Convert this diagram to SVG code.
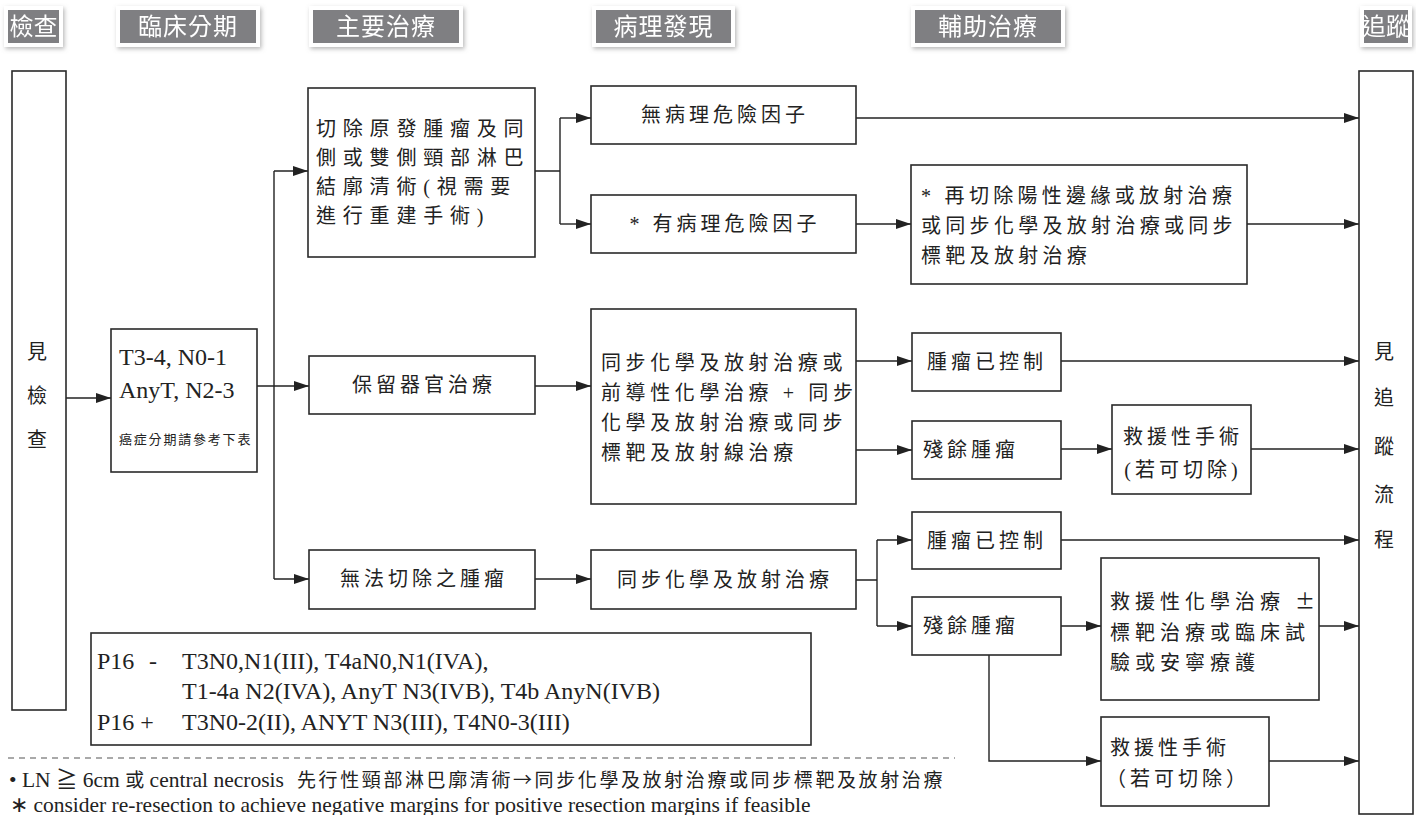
<svg xmlns="http://www.w3.org/2000/svg" width="1416" height="815" viewBox="0 0 1416 815">
<style>
.tab{fill:#7f7f82;stroke:#fff;stroke-width:4}
.tt{font-family:"Noto Sans CJK TC","Noto Sans",sans-serif;font-size:24px;fill:#fff;text-anchor:middle;letter-spacing:1px}
.box{fill:#fff;stroke:#2a2a2a;stroke-width:1.6}
.cj{font-family:"Liberation Serif","Noto Sans CJK TC",serif;font-size:20px;fill:#222;letter-spacing:4px}
.c{text-anchor:middle}
.ser{font-family:"Liberation Serif","Noto Sans CJK TC",serif;fill:#222}
.sc{font-family:"Noto Sans CJK TC",sans-serif}
.ln{fill:none;stroke:#222;stroke-width:1.4}
.ar{marker-end:url(#ah)}
.dash{fill:none;stroke:#555;stroke-width:1.2;stroke-dasharray:6 5}
</style>
<defs>
<marker id="ah" markerUnits="userSpaceOnUse" markerWidth="15" markerHeight="10" refX="15" refY="5" orient="auto">
<path d="M0,0 L15,5 L0,10 z" fill="#222"/>
</marker>
<filter id="sh" x="-20%" y="-30%" width="140%" height="160%">
<feDropShadow dx="1.5" dy="2" stdDeviation="2" flood-color="#888" flood-opacity="0.6"/>
</filter>
</defs>
<rect width="1416" height="815" fill="#fff"/>

<g id="headers" filter="url(#sh)">
<g id="h-check"><rect class="tab" x="6" y="8" width="55" height="37"/><text class="tt" x="33.5" y="35" style="letter-spacing:0">檢查</text></g>
<g id="h-stage"><rect class="tab" x="118" y="8" width="140" height="37"/><text class="tt" x="188" y="35">臨床分期</text></g>
<g id="h-main"><rect class="tab" x="311" y="8" width="150" height="37"/><text class="tt" x="386" y="35">主要治療</text></g>
<g id="h-path"><rect class="tab" x="594" y="8" width="139" height="37"/><text class="tt" x="663.5" y="35">病理發現</text></g>
<g id="h-adj"><rect class="tab" x="913" y="8" width="150" height="37"/><text class="tt" x="988" y="35">輔助治療</text></g>
<g id="h-fu"><rect class="tab" x="1362" y="8" width="48" height="37"/><text class="tt" x="1386" y="35" style="letter-spacing:0">追蹤</text></g>
</g>

<g id="connectors">
<path class="ln ar" d="M66,398 H111"/>
<path class="ln" d="M274,171 V579"/>
<path class="ln ar" d="M274,171 H308"/>
<path class="ln ar" d="M257,386 H309"/>
<path class="ln ar" d="M274,579 H309"/>
<path class="ln" d="M535,171 H560 M560,118 V224"/>
<path class="ln ar" d="M560,118 H591"/>
<path class="ln ar" d="M560,224 H591"/>
<path class="ln ar" d="M856,118 H1359"/>
<path class="ln ar" d="M856,224 H911"/>
<path class="ln ar" d="M1247,224 H1359"/>
<path class="ln ar" d="M535,386 H591"/>
<path class="ln ar" d="M856,361 H912"/>
<path class="ln ar" d="M856,450 H912"/>
<path class="ln ar" d="M1061,361 H1359"/>
<path class="ln ar" d="M1061,449 H1112"/>
<path class="ln ar" d="M1251,449 H1359"/>
<path class="ln ar" d="M535,579 H591"/>
<path class="ln" d="M856,580 H877 M877,540 V626"/>
<path class="ln ar" d="M877,540 H912"/>
<path class="ln ar" d="M877,626 H912"/>
<path class="ln ar" d="M1061,540 H1359"/>
<path class="ln ar" d="M1061,626 H1101"/>
<path class="ln ar" d="M1319,626 H1359"/>
<path class="ln ar" d="M989,655 V761 H1101"/>
<path class="ln ar" d="M1269,761 H1359"/>
</g>

<g id="n-exam"><rect class="box" x="12" y="71" width="54" height="639"/>
<text class="cj c" x="39" y="359">見</text><text class="cj c" x="39" y="403">檢</text><text class="cj c" x="39" y="447">查</text></g>

<g id="n-stage"><rect class="box" x="111" y="329" width="146" height="143"/>
<text class="ser" x="119" y="365" font-size="24">T3-4, N0-1</text>
<text class="ser" x="119" y="398" font-size="24">AnyT, N2-3</text>
<text class="cj" x="119" y="444" style="font-size:13px;letter-spacing:1.8px">癌症分期請參考下表</text></g>

<g id="n-resect"><rect class="box" x="308" y="88" width="227" height="169"/>
<text class="cj" style="letter-spacing:6.8px"><tspan x="316" y="136">切除原發腫瘤及同</tspan><tspan x="316" y="165">側或雙側頸部淋巴</tspan><tspan x="316" y="194">結廓清術(視需要</tspan><tspan x="316" y="223">進行重建手術)</tspan></text></g>

<g id="n-norisk"><rect class="box" x="591" y="86" width="265" height="58"/><text class="cj c" x="725" y="122">無病理危險因子</text></g>
<g id="n-risk"><rect class="box" x="591" y="195" width="265" height="58"/><text class="cj c" x="725" y="231">* 有病理危險因子</text></g>
<g id="n-reresect"><rect class="box" x="911" y="165" width="336" height="119"/>
<text class="cj" style="letter-spacing:4.3px"><tspan x="921" y="203">* 再切除陽性邊緣或放射治療</tspan><tspan x="921" y="233">或同步化學及放射治療或同步</tspan><tspan x="921" y="263">標靶及放射治療</tspan></text></g>

<g id="n-organ"><rect class="box" x="309" y="356" width="226" height="58"/><text class="cj c" x="424" y="392">保留器官治療</text></g>
<g id="n-ccrt1"><rect class="box" x="591" y="309" width="265" height="195"/>
<text class="cj" style="letter-spacing:4.6px"><tspan x="601" y="370">同步化學及放射治療或</tspan><tspan x="601" y="400">前導性化學治療 + 同步</tspan><tspan x="601" y="430">化學及放射治療或同步</tspan><tspan x="601" y="460">標靶及放射線治療</tspan></text></g>
<g id="n-ctrl1"><rect class="box" x="912" y="333" width="149" height="58"/><text class="cj" x="927" y="369">腫瘤已控制</text></g>
<g id="n-resid1"><rect class="box" x="912" y="421" width="149" height="58"/><text class="cj" x="923" y="457">殘餘腫瘤</text></g>
<g id="n-salv1"><rect class="box" x="1112" y="405" width="139" height="89"/>
<text class="cj c" x="1183" y="444">救援性手術</text><text class="cj c" x="1183" y="477">(若可切除)</text></g>

<g id="n-unres"><rect class="box" x="309" y="550" width="226" height="59"/><text class="cj c" x="424" y="586">無法切除之腫瘤</text></g>
<g id="n-ccrt2"><rect class="box" x="591" y="550" width="265" height="59"/><text class="cj c" x="725" y="587">同步化學及放射治療</text></g>
<g id="n-ctrl2"><rect class="box" x="912" y="512" width="149" height="57"/><text class="cj" x="927" y="548">腫瘤已控制</text></g>
<g id="n-resid2"><rect class="box" x="912" y="597" width="149" height="58"/><text class="cj" x="923" y="633">殘餘腫瘤</text></g>
<g id="n-salvchemo"><rect class="box" x="1101" y="558" width="218" height="142"/>
<text class="cj" style="letter-spacing:5px"><tspan x="1110" y="609">救援性化學治療 <tspan class="sc">±</tspan></tspan><tspan x="1110" y="640">標靶治療或臨床試</tspan><tspan x="1110" y="670">驗或安寧療護</tspan></text></g>
<g id="n-salv2"><rect class="box" x="1101" y="717" width="168" height="89"/>
<text class="cj"><tspan x="1110" y="755">救援性手術</tspan><tspan x="1106" y="786">（若可切除）</tspan></text></g>

<g id="n-follow"><rect class="box" x="1359" y="71" width="54" height="743"/>
<text class="cj c" x="1386" y="359">見</text><text class="cj c" x="1386" y="405">追</text><text class="cj c" x="1386" y="454">蹤</text><text class="cj c" x="1386" y="502">流</text><text class="cj c" x="1386" y="547">程</text></g>

<g id="n-p16"><rect class="box" x="91" y="633" width="720" height="112"/>
<text class="ser" font-size="24"><tspan x="97" y="669">P16</tspan><tspan x="149" y="669">-</tspan><tspan x="182" y="669">T3N0,N1(III), T4aN0,N1(IVA),</tspan><tspan x="182" y="699">T1-4a N2(IVA), AnyT N3(IVB), T4b AnyN(IVB)</tspan><tspan x="97" y="730">P16 +</tspan><tspan x="182" y="730">T3N0-2(II), ANYT N3(III), T4N0-3(III)</tspan></text></g>

<path class="dash" d="M8,758 H955"/>
<g id="notes">
<text class="ser" font-size="21.5" x="9" y="787">• LN ≧ 6cm <tspan class="sc" style="font-size:19px">或</tspan> central necrosis<tspan class="sc" x="297" style="font-size:19px;letter-spacing:2.6px">先行性頸部淋巴廓清術→同步化學及放射治療或同步標靶及放射治療</tspan></text>
<text class="ser" font-size="21.5" x="10" y="812">∗ consider re-resection to achieve negative margins for positive resection margins if feasible</text>
</g>
</svg>
